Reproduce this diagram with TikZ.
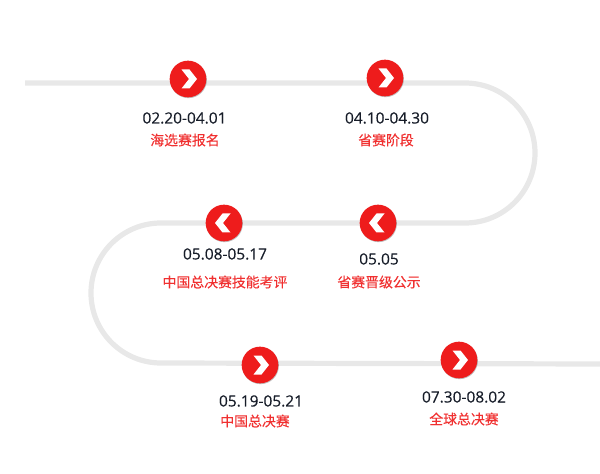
\documentclass[tikz,border=0pt]{standalone}
\usepackage{fontspec}
\usetikzlibrary{shadows}
\setmainfont[FakeBold=0.25]{Open Sans}
\newfontfamily\cjk[FakeBold=0.25]{Noto Sans CJK SC}
\definecolor{brandred}{HTML}{EE1C1C}
\definecolor{labelred}{HTML}{F03030}
\definecolor{trackgray}{HTML}{E8E8E8}
\definecolor{datetext}{HTML}{161C28}
\tikzset{
  track/.style={draw=trackgray,line width=3.9pt},
  stepdot/.style={circle,fill=brandred,minimum size=27.5pt,inner sep=0pt,
    drop shadow={shadow xshift=0.4pt,shadow yshift=-0.6pt,opacity=0.25,fill=black}},
  datelabel/.style={font=\fontsize{11.6pt}{13pt}\selectfont,text=datetext,inner sep=0pt},
  namelabel/.style={font=\cjk\fontsize{10.4pt}{12pt}\selectfont,text=labelred,inner sep=0pt},
}
\newcommand{\chevR}[1]{\fill[white,shift={(#1)}] (-6.5,-9.5) -- (1.5,-9.5) -- (9,0) -- (1.5,9.5) -- (-6.5,9.5) -- (1,0) -- cycle;}
\newcommand{\chevL}[1]{\fill[white,shift={(#1)}] (6.5,-9.5) -- (-1.5,-9.5) -- (-9,0) -- (-1.5,9.5) -- (6.5,9.5) -- (-1,0) -- cycle;}
\begin{document}
\begin{tikzpicture}[x=0.75pt,y=-0.75pt]
\useasboundingbox (0,0) rectangle (600,474);
\draw[track] (25,83) -- (465,83) arc[start angle=90,end angle=-90,x radius=70,y radius=-70] -- (161,223) arc[start angle=90,end angle=270,x radius=70,y radius=-70] -- (600,364);
\node[stepdot] (s1) at (188,79) {};
\node[stepdot] (s2) at (385,78) {};
\node[stepdot] (s3) at (378,223) {};
\node[stepdot] (s4) at (224,223) {};
\node[stepdot] (s5) at (260,365) {};
\node[stepdot] (s6) at (459,360) {};
\chevR{s1.center}
\chevR{s2.center}
\chevL{s3.center}
\chevL{s4.center}
\chevR{s5.center}
\chevR{s6.center}
\node[datelabel] (d1) at (184.5,118) {02.20-04.01};
\node[datelabel] (d2) at (387,118) {04.10-04.30};
\node[datelabel] (d3) at (379,259) {05.05};
\node[datelabel] (d4) at (225,254) {05.08-05.17};
\node[datelabel] (d5) at (261,401) {05.19-05.21};
\node[datelabel] (d6) at (464,397) {07.30-08.02};
\node[namelabel] (n1) at (185,140) {海选赛报名};
\node[namelabel] (n2) at (386,140) {省赛阶段};
\node[namelabel] (n3) at (379,282) {省赛晋级公示};
\node[namelabel] (n4) at (225,282) {中国总决赛技能考评};
\node[namelabel] (n5) at (255,421) {中国总决赛};
\node[namelabel] (n6) at (464,419) {全球总决赛};
\end{tikzpicture}
\end{document}
